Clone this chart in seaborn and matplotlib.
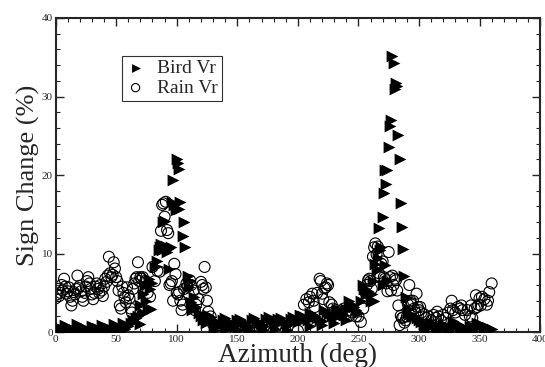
import numpy as np
import pandas as pd
import seaborn as sns
import matplotlib.pyplot as plt
from matplotlib.ticker import MultipleLocator

# Bird radial velocity sign change vs azimuth
bird_az = [0, 2, 4, 6, 8, 10, 12, 14, 16, 18, 20, 22, 24, 26, 28, 30, 32, 34, 36, 38,
           40, 42, 44, 46, 48, 50, 52, 54, 56, 58, 60,
           1, 5, 9, 13, 17, 21, 25, 29, 33, 37, 41, 45, 49, 53, 57,
           62, 64, 66, 68, 70, 70, 72, 72, 74, 75, 76, 77, 78, 79, 80,
           82, 84, 85, 86, 87, 88, 89, 90, 91, 92, 93, 94, 95, 96, 97, 98, 99,
           100, 101, 102, 102.7, 101.8, 106, 105.5, 107, 109, 110, 111, 112, 113, 114,
           116, 118, 120, 122, 124,
           126, 128, 130, 132, 134, 136, 138, 140, 142, 144, 146, 148, 150, 152, 154,
           156, 158, 160, 162, 164, 166, 168, 170, 172, 174, 176, 178, 180, 182, 184,
           186, 188, 190, 192, 194, 196, 198, 200,
           131, 141, 151, 161, 171, 181, 191,
           202, 204, 206, 208, 210, 212, 214, 216, 218, 220, 222, 224, 226, 228, 230,
           232, 234, 236, 238, 240, 242, 244, 246, 248, 250, 210, 220, 230, 240,
           252, 254, 255, 256, 258, 260, 261, 262, 263, 264, 265, 266, 267, 268, 269,
           270, 271, 272, 273, 274, 275, 276, 277, 278, 279, 280, 281, 282, 283, 284,
           285, 286, 287, 288, 289, 290, 291, 292, 293, 294, 296, 298, 270, 272, 274,
           300, 302, 304, 306, 308, 310, 312, 314, 316, 318, 320, 322, 324, 326, 328,
           330, 332, 334, 336, 338, 340, 342, 344, 346, 348, 350, 352, 354, 356, 358, 360,
           305, 315, 325, 335, 345, 355]
bird_val = [0.8, 0.6, 0.5, 0.4, 0.9, 0.7, 0.5, 0.4, 0.3, 1.0, 0.8, 0.6, 0.5, 0.3, 0.2, 0.8,
            0.6, 0.5, 0.4, 0.9, 0.7, 0.6, 0.5, 0.4, 1.0, 0.8, 0.6, 0.5, 1.2, 0.9, 0.8,
            0.2, 0.3, 0.2, 0.1, 0.2, 0.1, 0.2, 0.1, 0.2, 0.2, 0.1, 0.2, 0.2, 0.3, 0.4,
            1.2, 1.5, 1.8, 2.0, 3.5, 1.0, 4.8, 2.5, 6.0, 4.0, 2.8, 6.8, 5.5, 3.0, 6.3,
            8.3, 9.1, 10.5, 10.9, 11.2, 10.4, 14.0, 14.2, 11.0, 10.2, 10.6, 8.0, 10.8,
            16.6, 19.4, 16.2, 15.5,
            22.1, 21.5, 20.8, 16.6, 15.7, 14.0, 12.2, 10.9, 7.2, 5.7, 6.5, 3.8, 2.8, 4.5,
            3.2, 2.5, 2.0, 1.5, 1.2,
            2.2, 1.9, 1.6, 1.3, 1.1, 0.9, 1.6, 1.8, 1.4, 1.2, 1.0, 0.8, 1.5, 1.7, 1.4,
            1.1, 0.9, 0.7, 1.6, 1.8, 1.4, 1.2, 0.9, 0.8, 1.7, 1.9, 1.5, 1.2, 1.0, 1.7,
            1.8, 1.4, 1.1, 0.9, 1.7, 1.9, 1.5, 1.3,
            0.3, 0.4, 0.3, 0.2, 0.3, 0.4, 0.3,
            2.2, 2.0, 1.7, 1.5, 2.5, 2.3, 2.0, 1.8, 1.6, 1.4, 2.8, 2.6, 2.3, 2.0, 1.8,
            2.9, 2.6, 2.4, 2.2, 3.0, 4.0, 3.6, 3.2, 2.8, 2.5, 0.8, 0.9, 1.2, 1.5,
            4.0, 6.0, 5.5, 4.8, 5.2, 4.0, 4.9, 6.5, 4.0, 8.7, 7.9, 9.5, 13.2, 10.5, 10.9,
            14.7, 17.7, 20.6, 18.9, 20.7, 23.6, 26.3, 27.0, 35.2, 34.3, 30.9, 31.7, 31.4,
            25.1, 22.0,
            16.5, 13.4, 10.6, 7.2, 4.5, 4.3, 2.5, 3.0, 2.3, 2.0, 2.1, 1.8, 6.0, 8.5, 6.5,
            1.5, 1.3, 1.0, 0.8, 0.6, 1.2, 1.0, 0.8, 0.6, 0.5, 1.0, 0.8, 0.6, 0.4, 1.4,
            1.2, 1.0, 0.8, 0.6, 0.5, 0.4, 0.8, 0.6, 0.5, 1.2, 1.0, 0.9, 0.7, 0.6, 0.5, 0.4,
            0.2, 0.1, 0.2, 0.1, 0.2, 0.2]

# Rain radial velocity sign change vs azimuth
rain_az = [0, 1, 2, 3, 4, 5, 6, 7, 8, 9, 10, 11, 12, 13, 14, 15, 16, 17, 18, 19,
           20, 21, 22, 23, 24, 25, 26, 27, 28, 29, 30, 31, 32, 33, 34, 35, 36, 37, 38, 39,
           40, 41, 42, 43, 44, 45, 46, 47, 48, 49, 50, 51, 52, 53, 54, 55, 56, 57, 58, 59,
           60, 61, 62, 63, 64, 65, 66, 67, 68, 69, 70, 71, 72, 74, 76, 78, 80, 82, 84, 86,
           87, 88, 89, 90, 91, 92, 93, 94, 95, 96, 97, 98, 99, 100, 101, 102, 103, 104,
           105, 106, 108, 109, 110, 111, 112, 114, 115, 116, 118, 120, 121, 122, 123, 124,
           125, 126, 128, 130, 132, 135, 140, 145, 150, 160, 170, 180, 190, 200,
           205, 207, 209, 210, 212, 213, 214, 216, 218, 219, 220, 221, 222, 223, 224, 225,
           226, 228, 229, 230, 232, 234, 236, 238, 240, 242, 245, 248, 250, 252, 254, 256,
           257, 258, 259, 260, 261, 262, 263, 264, 265, 266, 267, 268, 269, 270, 271, 272,
           273, 274, 275, 276, 277, 278, 279, 280, 281, 282, 283, 284, 285, 286, 287, 288,
           289, 290, 291, 292, 293, 294, 295, 296, 297, 298, 299, 300, 301, 302, 304, 306,
           308, 310, 312, 314, 315, 316, 318, 320, 322, 324, 326, 327, 328, 330, 332, 334,
           335, 336, 338, 340, 342, 343, 344, 346, 347, 348, 349, 350, 351, 352, 354, 356,
           357, 358, 360]
rain_val = [4.3, 4.8, 5.5, 4.6, 5.0, 6.0, 5.3, 6.8, 5.8, 4.9, 5.2, 5.7, 4.5, 3.4, 4.0,
            5.1, 4.8, 5.5, 7.2, 5.6, 5.9, 5.2, 4.5, 4.0, 5.0, 5.8, 6.5, 7.0, 6.2, 5.5,
            4.8, 4.2, 5.0, 5.8, 6.2, 5.5, 5.0, 6.0, 5.3, 4.6, 5.8, 6.8, 6.4, 7.2, 9.6,
            7.5, 7.0, 7.3, 8.9, 8.1, 7.0, 6.5, 5.3, 3.4, 3.0, 5.8, 5.0, 4.4, 3.8, 5.7,
            4.7, 4.3, 3.0, 2.5, 5.5, 6.2, 6.8, 7.0, 8.9, 6.5, 7.0, 6.8, 7.0, 6.5, 5.0,
            4.5, 8.3, 6.5, 7.8, 7.7,
            12.9, 16.2, 16.4, 14.7, 16.6, 13.0, 12.6, 6.0, 6.2, 6.5, 4.0, 8.7, 7.4, 5.0,
            4.8, 5.1, 4.0, 2.8,
            3.5, 5.5, 6.2, 5.8, 4.8, 6.6, 6.0, 5.3, 2.8, 3.5, 4.2, 6.4, 6.0, 5.5, 8.3, 5.7,
            4.0, 2.6, 2.0, 1.0, 0.5, 0.3, 0.2, 0.1, 0.2, 0.1, 0.2, 0.1, 0.2, 0.2,
            3.5, 4.2, 3.8, 4.5, 4.9, 4.0, 3.2, 5.0, 6.8, 6.5, 4.9, 4.2, 5.6, 5.7, 6.2, 6.0,
            3.8, 3.5, 3.0, 2.6, 2.8, 2.5, 2.2, 3.0, 2.4, 2.0, 2.5, 2.0, 2.0, 1.3, 3.0, 5.0,
            6.0, 6.6, 6.8, 6.5, 5.5, 9.6, 10.8, 11.3, 9.9, 10.9, 7.5, 7.0, 8.7, 9.0, 7.0, 6.8,
            6.2, 5.2, 10.2, 7.0, 5.3, 7.2, 6.0, 6.8, 6.6, 5.3, 3.4, 0.9, 2.1, 1.8, 1.9, 1.2,
            1.5, 2.0, 3.5, 6.0, 4.0, 3.5, 4.0, 3.0, 2.5, 4.9, 3.2, 2.8, 3.2, 2.5, 2.3, 1.8,
            2.0, 1.5, 2.2, 1.8, 2.6, 2.0, 1.5, 2.2, 1.8, 2.5, 3.0, 4.0, 2.8, 2.5, 3.2, 3.0,
            3.4, 2.8, 2.2, 2.8, 2.0, 3.4, 1.8, 3.0, 4.7, 3.2, 3.5, 4.3, 3.4, 4.5, 4.2, 3.5,
            4.0, 5.1, 6.2]

bird = pd.DataFrame({"az": bird_az, "val": bird_val})
rain = pd.DataFrame({"az": rain_az, "val": rain_val})

sns.set_style("ticks")
plt.rcParams['font.family'] = ['Liberation Serif', 'DejaVu Serif']

fig = plt.figure(figsize=(5.45, 3.67), dpi=100)
ax = fig.add_axes([0.102, 0.095, 0.889, 0.856])

sns.scatterplot(data=rain, x="az", y="val", ax=ax, marker="o", s=62,
                facecolor="none", edgecolor="black", linewidth=0.8, label="Rain Vr", zorder=2)
sns.scatterplot(data=bird, x="az", y="val", ax=ax, marker=">", s=72,
                color="black", edgecolor="black", linewidth=0, label="Bird Vr", zorder=3)

ax.set_xlim(0, 400)
ax.set_ylim(0, 40)
ax.xaxis.set_major_locator(MultipleLocator(50))
ax.xaxis.set_minor_locator(MultipleLocator(10))
ax.yaxis.set_major_locator(MultipleLocator(10))
ax.yaxis.set_minor_locator(MultipleLocator(2))
ax.tick_params(which="both", direction="in", top=True, right=True, labelsize=8, pad=2)
ax.tick_params(which="major", length=6, width=1)
ax.tick_params(which="minor", length=3, width=0.8)
for sp in ax.spines.values():
    sp.set_linewidth(1.5)

ax.set_xlabel("Azimuth (deg)", fontsize=19.5, labelpad=-1)
ax.set_ylabel("Sign Change (%)", fontsize=19, labelpad=1)

h, l = ax.get_legend_handles_labels()
leg = ax.legend(h[::-1], l[::-1], loc="upper left", bbox_to_anchor=(0.137, 0.88),
                fontsize=14, frameon=True, fancybox=False, markerscale=0.75,
                handlelength=1.0, handletextpad=0.6, borderpad=0.2, labelspacing=0.1,
                borderaxespad=0)
leg.get_frame().set_edgecolor("black")
leg.get_frame().set_linewidth(0.8)

fig.savefig("out.png", dpi=100)
